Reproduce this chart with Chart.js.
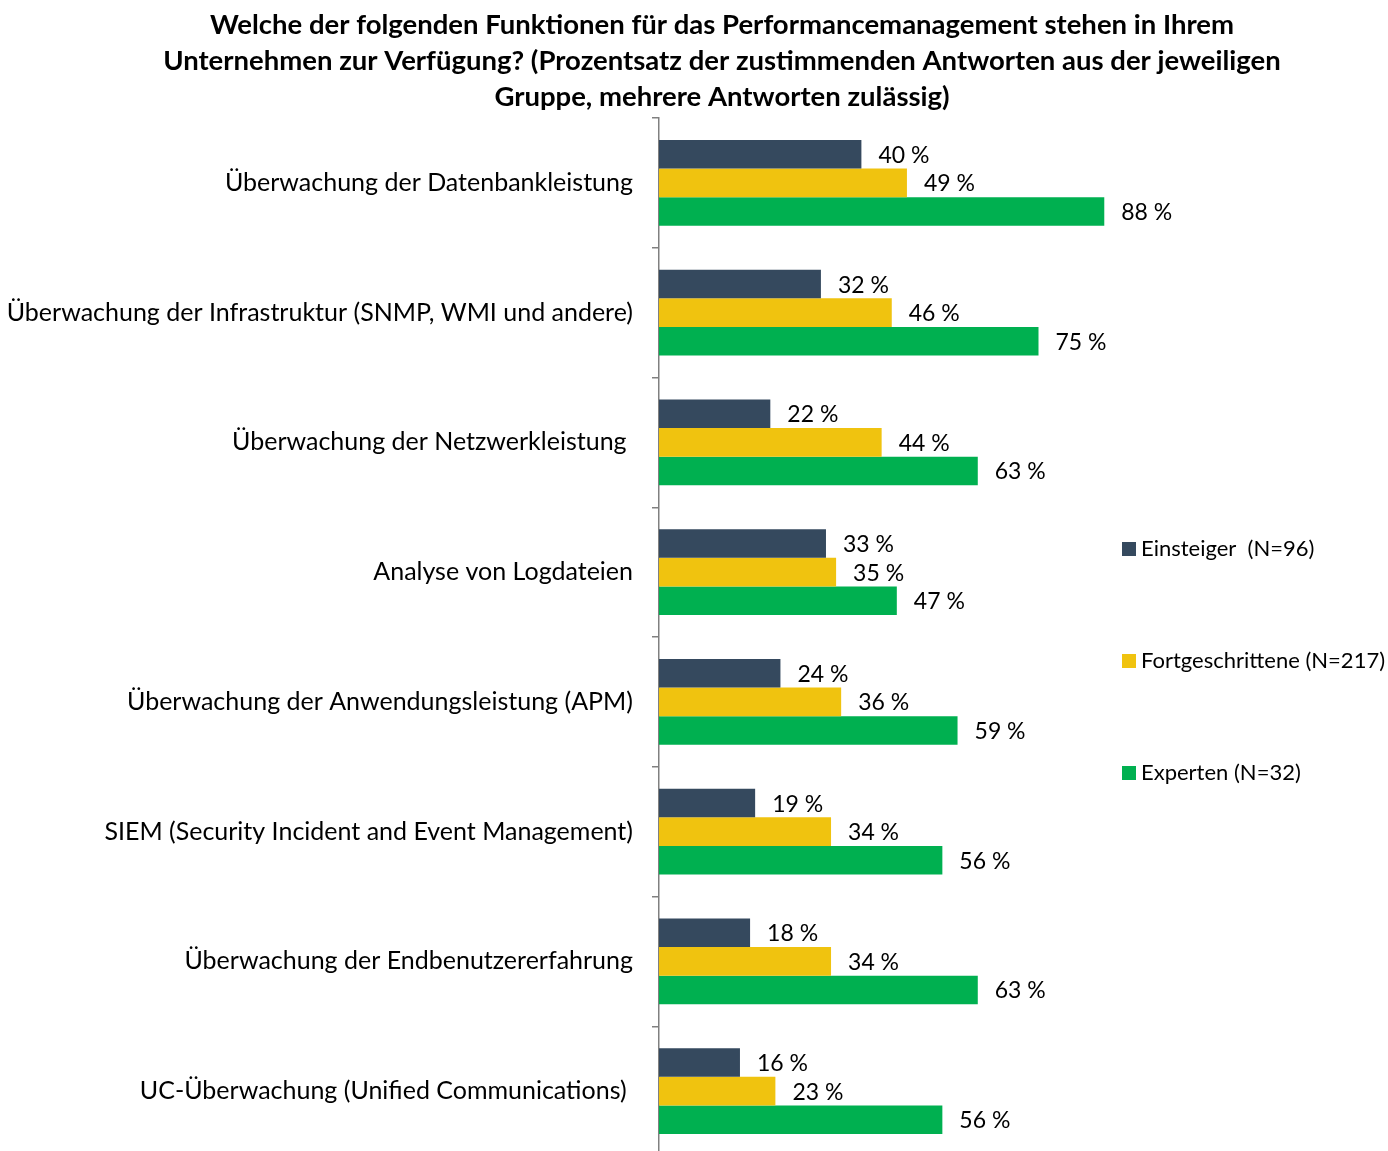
<!DOCTYPE html>
<html lang="de">
<head>
  <meta charset="UTF-8">
  <title>Performancemanagement Funktionen</title>
  <script src="https://cdn.jsdelivr.net/npm/chart.js"></script>
  <style>
    html, body { margin: 0; background: #fff; overflow: hidden; }
    canvas { display: block; }
  </style>
</head>
<body>
  <!-- a few px taller than the window: the axis runs off the bottom edge like in the original -->
  <canvas id="chart" width="1388" height="1156"></canvas>

  <script>
    // chart data
    const categories = [
      'Überwachung der Datenbankleistung',
      'Überwachung der Infrastruktur (SNMP, WMI und andere)',
      'Überwachung der Netzwerkleistung ',
      'Analyse von Logdateien',
      'Überwachung der Anwendungsleistung (APM)',
      'SIEM (Security Incident and Event Management)',
      'Überwachung der Endbenutzererfahrung',
      'UC-Überwachung (Unified Communications) '
    ];
    const seriesNames = ['Einsteiger  (N=96)', 'Fortgeschrittene (N=217)', 'Experten (N=32)'];
    const einsteiger = [40, 32, 22, 33, 24, 19, 18, 16];
    const fortgeschrittene = [49, 46, 44, 35, 36, 34, 34, 23];
    const experten = [88, 75, 63, 47, 59, 56, 63, 56];
    const colors = ['#35495e', '#f0c30f', '#00b050'];
    const titleLines = [
      'Welche der folgenden Funktionen für das Performancemanagement stehen in Ihrem',
      'Unternehmen zur Verfügung? (Prozentsatz der zustimmenden Antworten aus der jeweiligen',
      'Gruppe, mehrere Antworten zulässig)'
    ];

    const FONT = 'Lato, "Open Sans", sans-serif';

    // title drawn centred over the figure
    const titlePlugin = {
      id: 'titleText',
      afterDraw(chart) {
        const ctx = chart.ctx;
        ctx.save();
        ctx.fillStyle = '#000';
        ctx.font = 'bold 27.5px ' + FONT;
        ctx.textAlign = 'center';
        ctx.textBaseline = 'middle';
        titleLines.forEach((line, i) => ctx.fillText(line, 722, 25 + i * 36));
        ctx.restore();
      }
    };

    // value labels right of each bar
    const valueLabels = {
      id: 'valueLabels',
      afterDatasetsDraw(chart) {
        const ctx = chart.ctx;
        ctx.save();
        ctx.fillStyle = '#000';
        ctx.font = '23px ' + FONT;
        ctx.textAlign = 'left';
        ctx.textBaseline = 'middle';
        chart.data.datasets.forEach((ds, i) => {
          chart.getDatasetMeta(i).data.forEach((bar, j) => {
            ctx.fillText(ds.data[j] + ' %', bar.x + 17, bar.y + 1);
          });
        });
        ctx.restore();
      }
    };

    // legend on the right, spaced out vertically
    const sideLegend = {
      id: 'sideLegend',
      afterDraw(chart) {
        const ctx = chart.ctx;
        ctx.save();
        ctx.font = '22px ' + FONT;
        ctx.textAlign = 'left';
        ctx.textBaseline = 'middle';
        chart.data.datasets.forEach((ds, i) => {
          const y = 549 + i * 112;
          ctx.fillStyle = ds.backgroundColor;
          ctx.fillRect(1122, y - 7, 14, 14);
          ctx.fillStyle = '#000';
          ctx.fillText(ds.label, 1141, y);
        });
        ctx.restore();
      }
    };

    const datasets = [einsteiger, fortgeschrittene, experten].map((vals, i) => ({
      label: seriesNames[i],
      data: vals,
      backgroundColor: colors[i],
      borderWidth: 0,
      categoryPercentage: 0.66,
      barPercentage: 1.0
    }));

    new Chart(document.getElementById('chart'), {
      type: 'bar',
      data: { labels: categories, datasets: datasets },
      options: {
        indexAxis: 'y',
        responsive: false,
        animation: false,
        layout: { padding: { top: 118, right: 223, bottom: 0, left: 0 } },
        plugins: {
          legend: { display: false },
          tooltip: { enabled: false }
        },
        scales: {
          x: {
            display: false,
            min: 0,
            max: 100
          },
          y: {
            afterFit(scale) {
              scale.width = 659;
              scale.paddingTop = 0;
              scale.paddingBottom = 0;
            },
            border: { display: true, color: '#808080', width: 1.5 },
            grid: {
              offset: true,
              drawOnChartArea: false,
              drawTicks: true,
              tickLength: 7,
              color: '#808080',
              lineWidth: 1.5
            },
            ticks: {
              color: '#000',
              padding: 19,
              font: { family: FONT, size: 25 }
            }
          }
        }
      },
      plugins: [titlePlugin, valueLabels, sideLegend]
    });
  </script>
</body>
</html>
